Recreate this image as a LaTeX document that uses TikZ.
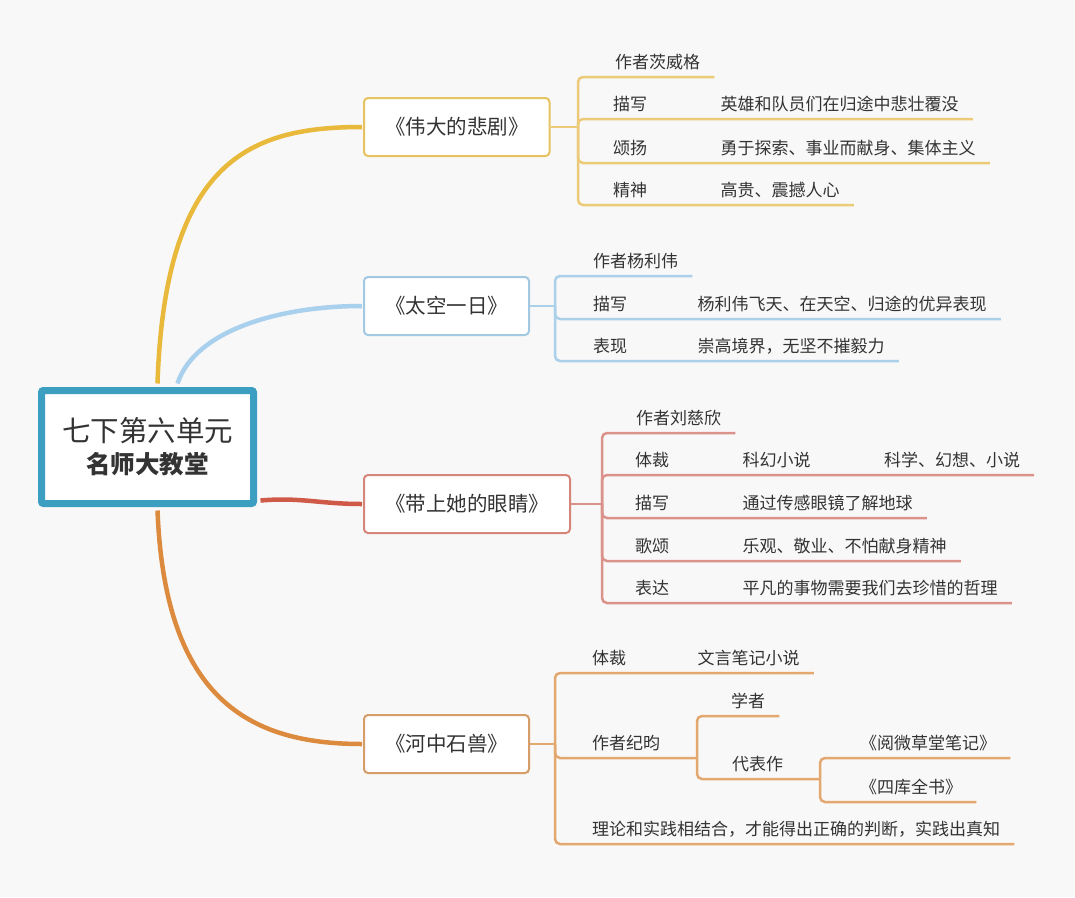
\documentclass[tikz,border=0pt]{standalone}
\usepackage{fontspec}
\setmainfont{Noto Sans CJK SC}
\usetikzlibrary{positioning}
\definecolor{bg}{HTML}{F8F8F8}
\definecolor{ink}{HTML}{333333}
\definecolor{hubblue}{HTML}{3C9FC2}
\definecolor{ygold}{HTML}{E8B93A}
\definecolor{ybox}{HTML}{E6C260}
\definecolor{ylw}{HTML}{ECCA78}
\definecolor{bsky}{HTML}{A9D0EC}
\definecolor{bbox}{HTML}{A3C9E2}
\definecolor{blu}{HTML}{ABD0E9}
\definecolor{rcurve}{HTML}{CF5A48}
\definecolor{rbox}{HTML}{D6857A}
\definecolor{red2}{HTML}{DA928A}
\definecolor{ocurve}{HTML}{DC8A3E}
\definecolor{obox}{HTML}{D69D68}
\definecolor{orn}{HTML}{E2A86F}

\begin{document}
\begin{tikzpicture}[x=1pt,y=-1pt,node distance=73pt,
  hub/.style={draw=hubblue, line width=7pt, fill=white, rounded corners=2pt, minimum width=212pt, minimum height=113pt, align=center, text=ink, font=\fontsize{28.5}{33}\selectfont},
  book/.style={draw=#1, line width=2pt, fill=white, rounded corners=4pt, inner xsep=21pt, minimum height=58pt, anchor=west, text=ink, font=\fontsize{20.5}{24}\selectfont},
  leaf/.style={anchor=south west, inner xsep=0pt, inner ysep=6.5pt, text height=13pt, text depth=2pt, text=ink, font=\fontsize{17}{20}\selectfont},
  twig/.style={draw=#1, line width=2.5pt, rounded corners=5pt, shorten >=-14pt},
  stem/.style={draw=#1, line width=2.5pt, rounded corners=5pt},
  limb/.style={draw=#1, line width=4.5pt}]
\path[use as bounding box, fill=bg] (0,0) rectangle (1075,897);

\node[hub] (hub) at (147.5,447) {七下第六单元\\[-1pt]{\bfseries\fontsize{24.5}{33}\selectfont 名师大教堂}};

\node[book=ybox] (tragedy) at (363,127) {《伟大的悲剧》};
\node[book=bbox] (space) at (363,306) {《太空一日》};
\node[book=rbox] (eyes) at (363,504) {《带上她的眼睛》};
\node[book=obox] (beast) at (363,744) {《河中石兽》};

\draw[limb=ygold] ([xshift=10pt,yshift=3.5pt]hub.north) .. controls (165,160) and (250,127) .. ([xshift=-1pt]tragedy.west);
\draw[limb=bsky] ([xshift=30pt,yshift=3.5pt]hub.north) .. controls (195,330) and (280,306) .. ([xshift=-1pt]space.west);
\draw[limb=rcurve] ([xshift=3.5pt,yshift=6.5pt]hub.south east) .. controls (300,497) and (320,504) .. ([xshift=-1pt]eyes.west);
\draw[limb=ocurve] ([xshift=10pt,yshift=-3.5pt]hub.south) .. controls (165,700) and (250,744) .. ([xshift=-1pt]beast.west);

\coordinate (tj) at (578,127);
\node[leaf] (t0) at (615,77) {作者茨威格};
\node[leaf] (t1) at (613,119) {描写};
\node[leaf, right=of t1] (t1x) {英雄和队员们在归途中悲壮覆没};
\node[leaf] (t2) at (613,163) {颂扬};
\node[leaf, right=of t2] (t2x) {勇于探索、事业而献身、集体主义};
\node[leaf] (t3) at (613,205) {精神};
\node[leaf, right=of t3] (t3x) {高贵、震撼人心};
\draw[stem=ylw] (tragedy) -- (tj);
\foreach \n in {t0,t1x,t2x,t3x}
  \draw[twig=ylw] (tj) |- (\n.south east);

\coordinate (sj) at (555,306);
\node[leaf] (s0) at (593,276) {作者杨利伟};
\node[leaf] (s1) at (593,319) {描写};
\node[leaf, right=70pt of s1] (s1x) {杨利伟飞天、在天空、归途的优异表现};
\node[leaf] (s2) at (593,361) {表现};
\node[leaf, right=70pt of s2] (s2x) {崇高境界，无坚不摧毅力};
\draw[stem=blu] (space) -- (sj);
\foreach \n in {s0,s1x,s2x}
  \draw[twig=blu] (sj) |- (\n.south east);

\coordinate (ej) at (602,504);
\node[leaf] (e0) at (636,433) {作者刘慈欣};
\node[leaf] (e1) at (635,475) {体裁};
\node[leaf, right=of e1] (e1x) {科幻小说};
\node[leaf, right=of e1x] (e1y) {科学、幻想、小说};
\node[leaf] (e2) at (635,518) {描写};
\node[leaf, right=of e2] (e2x) {通过传感眼镜了解地球};
\node[leaf] (e3) at (635,561) {歌颂};
\node[leaf, right=of e3] (e3x) {乐观、敬业、不怕献身精神};
\node[leaf] (e4) at (635,603) {表达};
\node[leaf, right=of e4] (e4x) {平凡的事物需要我们去珍惜的哲理};
\draw[stem=red2] (eyes) -- (ej);
\foreach \n in {e0,e1y,e2x,e3x,e4x}
  \draw[twig=red2] (ej) |- (\n.south east);

\coordinate (bj) at (555,744);
\coordinate (hk) at (697,758);
\coordinate (hw) at (820,779);
\node[leaf] (h1) at (592,673) {体裁};
\node[leaf, right=71pt of h1] (h1x) {文言笔记小说};
\node[leaf] (h2) at (592,758) {作者纪昀};
\node[leaf] (h2a) at (731,716) {学者};
\node[leaf] (h2b) at (732,779) {代表作};
\node[leaf] (h2c) at (860,758) {《阅微草堂笔记》};
\node[leaf] (h2d) at (860,802) {《四库全书》};
\node[leaf] (h3) at (592,844) {理论和实践相结合，才能得出正确的判断，实践出真知};
\draw[stem=orn] (beast) -- (bj);
\draw[stem=orn] (bj) |- (hk);
\draw[stem=orn] (hk) |- (hw);
\foreach \n in {h1x,h3}
  \draw[twig=orn] (bj) |- (\n.south east);
\draw[twig=orn] (hk) |- (h2a.south east);
\foreach \n in {h2c,h2d}
  \draw[twig=orn] (hw) |- (\n.south east);
\end{tikzpicture}
\end{document}
